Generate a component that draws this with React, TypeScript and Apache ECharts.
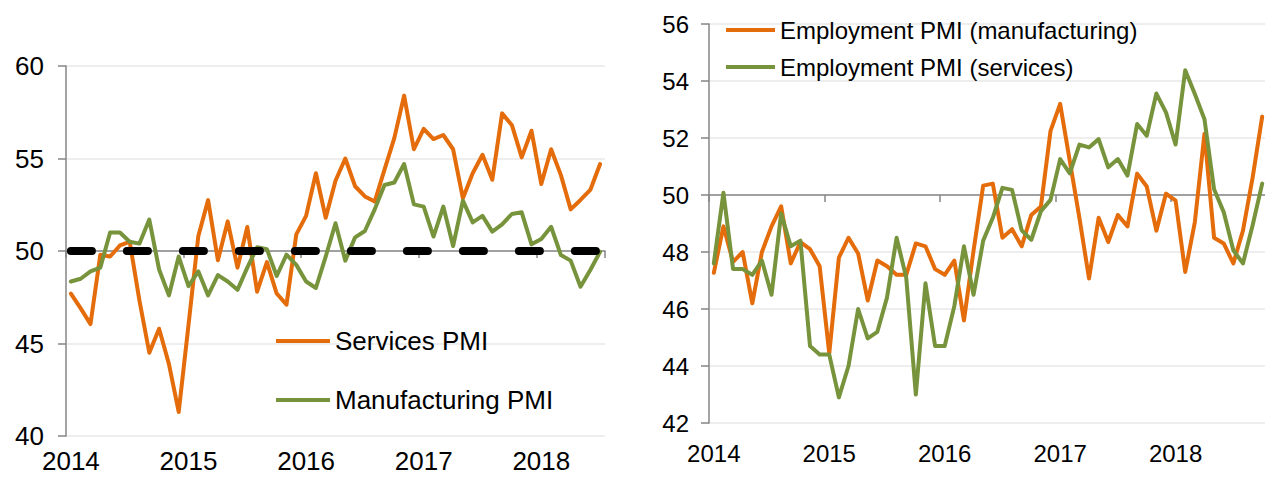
import React, { useEffect, useRef } from "react";
import * as echarts from "echarts";

const years = ["2014", "2015", "2016", "2017", "2018"];
const monthNums = ["01", "02", "03", "04", "05", "06", "07", "08", "09", "10", "11", "12"];
const allMonths: string[] = [];
years.forEach((y) => monthNums.forEach((m) => allMonths.push(`${y}-${m}`)));
const leftCategories = allMonths.slice(0, 55); // Jan 2014 - Jul 2018
const rightCategories = allMonths.slice(0, 58); // Jan 2014 - Oct 2018

const threshold = 50;

const servicesPMI = [
  47.7, 46.9, 46.05, 49.8, 49.7, 50.3, 50.5, 47.3, 44.5, 45.8, 43.9, 41.3,
  46.0, 50.8, 52.75, 49.5, 51.6, 49.1, 51.3, 47.8, 49.4, 47.7, 47.1, 50.9,
  51.9, 54.2, 51.8, 53.8, 55.0, 53.5, 52.95, 52.67, 54.4, 56.1, 58.4, 55.5,
  56.6, 56.05, 56.27, 55.5, 52.85, 54.2, 55.2, 53.85, 57.44, 56.8, 55.06, 56.5,
  53.62, 55.5, 54.1, 52.25, 52.76, 53.3, 54.7,
];

const manufacturingPMI = [
  48.35, 48.5, 48.9, 49.1, 51.0, 51.0, 50.5, 50.4, 51.7, 49.0, 47.6, 49.7,
  48.1, 48.9, 47.6, 48.7, 48.35, 47.9, 49.1, 50.2, 50.1, 48.65, 49.8, 49.25,
  48.35, 48.0, 49.7, 51.5, 49.48, 50.74, 51.08, 52.25, 53.57, 53.7, 54.7, 52.52,
  52.4, 50.78, 52.4, 50.27, 52.72, 51.55, 51.9, 51.05, 51.44, 52.0, 52.09, 50.36,
  50.65, 51.31, 49.78, 49.48, 48.07, 48.97, 49.96,
];

const employmentManufacturing = [
  47.27, 48.9, 47.65, 48.0, 46.2, 48.0, 48.9, 49.6, 47.6, 48.35, 48.1, 47.5,
  44.45, 47.8, 48.5, 47.95, 46.3, 47.7, 47.5, 47.2, 47.2, 48.3, 48.2, 47.4,
  47.2, 47.7, 45.6, 48.05, 50.33, 50.4, 48.5, 48.8, 48.2, 49.3, 49.6, 52.25,
  53.2, 51.2, 49.2, 47.07, 49.2, 48.35, 49.3, 48.9, 50.75, 50.3, 48.75, 50.05,
  49.8, 47.3, 49.05, 52.15, 48.5, 48.3, 47.6, 48.75, 50.6, 52.75,
];

const employmentServices = [
  47.6, 50.08, 47.4, 47.4, 47.2, 47.7, 46.5, 49.35, 48.2, 48.4, 44.7, 44.4,
  44.4, 42.9, 44.0, 46.0, 44.97, 45.2, 46.4, 48.5, 47.1, 43.0, 46.9, 44.7,
  44.7, 46.1, 48.2, 46.5, 48.4, 49.2, 50.25, 50.18, 48.76, 48.43, 49.43, 49.83,
  51.26, 50.76, 51.77, 51.67, 51.96, 50.97, 51.26, 50.68, 52.49, 52.08, 53.56, 52.9,
  51.77, 54.38, 53.54, 52.66, 50.2, 49.4, 48.06, 47.6, 48.93, 50.4,
];

const leftYTicks = { min: 40, max: 60, step: 5 };
const rightYTicks = { min: 42, max: 56, step: 2 };

const ORANGE = "#E46C0A";
const GREEN = "#77933C";
const AXIS_GRAY = "#868686";
const GRID_GRAY = "#E9E9E9";
const FONT = "Liberation Sans, Arial, sans-serif";

const yearStart = (index: number) => index % 12 === 0;

export default function App() {
  const ref = useRef<HTMLDivElement>(null);

  useEffect(() => {
    if (!ref.current) return;
    const chart = echarts.init(ref.current, undefined, { renderer: "svg" });

    const labelAxis = (gridIndex: number, data: string[], fontSize: number, margin: number) => ({
      type: "category",
      gridIndex,
      data,
      boundaryGap: true,
      position: "bottom",
      axisLine: { show: false },
      axisTick: { show: false },
      axisLabel: {
        interval: yearStart,
        formatter: (v: string) => v.slice(0, 4),
        fontSize,
        lineHeight: 20,
        fontFamily: FONT,
        color: "#000",
        margin,
      },
      splitLine: { show: false },
    });

    const midAxis = (gridIndex: number, data: string[], offset: number) => ({
      type: "category",
      gridIndex,
      data,
      boundaryGap: true,
      position: "bottom",
      offset,
      axisLine: { show: true, onZero: false, lineStyle: { color: AXIS_GRAY, width: 1.5 } },
      axisTick: { show: true, interval: yearStart, length: 7, lineStyle: { color: AXIS_GRAY, width: 1.5 } },
      axisLabel: { show: false },
      splitLine: { show: false },
    });

    const valueAxis = (gridIndex: number, t: { min: number; max: number; step: number }, fontSize: number, margin: number) => ({
      type: "value",
      gridIndex,
      min: t.min,
      max: t.max,
      interval: t.step,
      axisLine: { show: true, lineStyle: { color: AXIS_GRAY, width: 1.5 } },
      axisTick: { show: true, length: 8, lineStyle: { color: AXIS_GRAY, width: 1.5 } },
      axisLabel: { fontSize, fontFamily: FONT, color: "#000", margin },
      splitLine: { show: true, lineStyle: { color: GRID_GRAY, width: 1.5 } },
    });

    const lineSeries = (name: string, data: number[], color: string, xAxisIndex: number, yAxisIndex: number, extra: any = {}) => ({
      type: "line",
      name,
      data,
      xAxisIndex,
      yAxisIndex,
      symbol: "none",
      showSymbol: false,
      lineStyle: { color, width: 4, join: "round", cap: "round" },
      itemStyle: { color },
      emphasis: { disabled: true },
      ...extra,
    });

    chart.setOption({
      animation: false,
      backgroundColor: "#fff",
      grid: [
        { left: 66, top: 66, width: 539, height: 370, outerBoundsMode: "none", containLabel: false },
        { left: 709, top: 24, width: 558, height: 399, outerBoundsMode: "none", containLabel: false },
      ],
      legend: [
        {
          orient: "vertical",
          left: 276,
          top: 326,
          padding: 0,
          itemWidth: 54,
          itemHeight: 4,
          itemGap: 29,
          icon: "rect",
          data: ["Services PMI", "Manufacturing PMI"],
          textStyle: { fontSize: 26, lineHeight: 30, fontFamily: FONT, color: "#000" },
          selectedMode: false,
        },
        {
          orient: "vertical",
          left: 726,
          top: 16,
          padding: 0,
          itemWidth: 49,
          itemHeight: 4,
          itemGap: 9,
          icon: "rect",
          data: ["Employment PMI (manufacturing)", "Employment PMI (services)"],
          textStyle: { fontSize: 24, lineHeight: 28, fontFamily: FONT, color: "#000" },
          selectedMode: false,
        },
      ],
      xAxis: [
        labelAxis(0, leftCategories, 26, 15),
        midAxis(0, leftCategories, -185),
        labelAxis(1, rightCategories, 24, 20),
        midAxis(1, rightCategories, -228),
      ],
      yAxis: [valueAxis(0, leftYTicks, 26, 22), valueAxis(1, rightYTicks, 24, 20)],
      series: [
        lineSeries("Services PMI", servicesPMI, ORANGE, 0, 0),
        lineSeries("Manufacturing PMI", manufacturingPMI, GREEN, 0, 0, {
          markLine: {
            silent: true,
            symbol: ["none", "none"],
            label: { show: false },
            lineStyle: { color: "#000", width: 8, type: [21, 35], cap: "round" },
            data: [[
              { coord: [leftCategories[0], threshold] },
              { coord: [leftCategories[leftCategories.length - 1], threshold] },
            ]],
          },
        }),
        lineSeries("Employment PMI (manufacturing)", employmentManufacturing, ORANGE, 2, 1),
        lineSeries("Employment PMI (services)", employmentServices, GREEN, 2, 1),
      ],
    });

    return () => chart.dispose();
  }, []);

  return (
    <div
      ref={ref}
      style={{ position: "absolute", left: 0, top: 0, width: 1265, height: 477, background: "#fff" }}
    />
  );
}
